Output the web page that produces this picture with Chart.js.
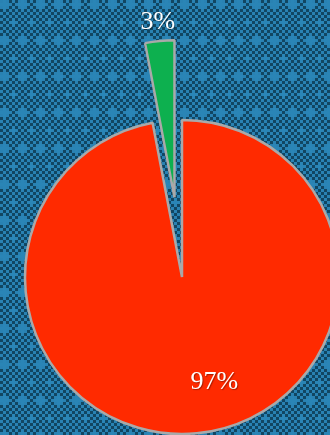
<!DOCTYPE html>
<html>
<head>
<meta charset="utf-8">
<script src="https://cdn.jsdelivr.net/npm/chart.js@4.4.1/dist/chart.umd.min.js"></script>
<style>
  html, body { margin: 0; padding: 0; width: 330px; height: 435px; overflow: hidden; }
  body { position: relative; background-color: #124865; }
  #wrap { position: absolute; left: 0; top: 0; width: 364px; height: 460px; }
</style>
</head>
<body>
<div id="wrap"><canvas id="pie"></canvas></div>
<script>
// Slices, drawn clockwise from twelve o'clock
const categories = ['Rest', 'Share'];
const shares = [97, 3];
const valueLabels = ['97%', '3%'];
const sliceColors = ['#ff2a00', '#0db04f'];

// Tiled backdrop: a small checkerboard with staggered light crosses
(function paintBackdrop() {
  const cell = 3, cols = 6, rows = 12;
  const dark = '#114662', light = '#2982b3', cross = '#2a85b6';
  const crossCentres = [[1, 1], [4, 7]];
  let rects = '';
  const isCross = (c, r) => crossCentres.some(([cx, cy]) =>
    (c === cx && Math.abs(r - cy) <= 1) || (r === cy && Math.abs(c - cx) <= 1));
  for (let r = 0; r < rows; r++) {
    for (let c = 0; c < cols; c++) {
      let fill = null;
      if (isCross(c, r)) fill = cross;
      else if ((c + r) % 2 === 0) fill = light;
      if (fill) rects += `<rect x="${c * cell}" y="${r * cell}" width="${cell}" height="${cell}" fill="${fill}"/>`;
    }
  }
  const svg = `<svg xmlns="http://www.w3.org/2000/svg" width="${cols * cell}" height="${rows * cell}">` +
    `<rect width="100%" height="100%" fill="${dark}"/>${rects}</svg>`;
  document.body.style.backgroundImage = `url("data:image/svg+xml;utf8,${encodeURIComponent(svg)}")`;
})();

// Draw each arc element shifted outward along its bisector (pulled-out slice)
const explode = {
  id: 'explode',
  beforeDatasetDraw(chart, args, opts) {
    const ctx = chart.ctx;
    args.meta.data.forEach((arc, i) => {
      const d = opts.distance[i] || 0;
      const mid = (arc.startAngle + arc.endAngle) / 2;
      ctx.save();
      ctx.translate(Math.cos(mid) * d, Math.sin(mid) * d);
      arc.draw(ctx);
      ctx.restore();
    });
    return false;
  }
};

// Percentage text placed in polar terms around each slice's own centre
const sliceLabels = {
  id: 'sliceLabels',
  afterDatasetsDraw(chart, args, opts) {
    const ctx = chart.ctx;
    const arcs = chart.getDatasetMeta(0).data;
    const dist = chart.options.plugins.explode.distance;
    ctx.save();
    ctx.font = opts.font;
    ctx.fillStyle = opts.color;
    ctx.textAlign = 'center';
    ctx.textBaseline = 'middle';
    ctx.shadowColor = 'rgba(0,0,0,0.35)';
    ctx.shadowOffsetX = 1;
    ctx.shadowOffsetY = 1;
    ctx.shadowBlur = 1;
    arcs.forEach((arc, i) => {
      const place = opts.placement[i];
      const mid = (arc.startAngle + arc.endAngle) / 2;
      const d = dist[i] || 0;
      const cx = arc.x + Math.cos(mid) * d;
      const cy = arc.y + Math.sin(mid) * d;
      const a = mid + place.shift * Math.PI / 180;
      const r = arc.outerRadius * place.radius;
      ctx.fillText(valueLabels[i], cx + Math.cos(a) * r, cy + Math.sin(a) * r);
    });
    ctx.restore();
  }
};

new Chart(document.getElementById('pie'), {
  type: 'pie',
  data: {
    labels: categories,
    datasets: [{
      data: shares,
      backgroundColor: sliceColors,
      borderColor: '#a9a9a9',
      borderWidth: 2.5,
      hoverOffset: 0
    }]
  },
  options: {
    responsive: true,
    maintainAspectRatio: false,
    animation: false,
    events: [],
    layout: { padding: { left: 23.75, right: 23.75, top: 118.75, bottom: 24.75 } },
    plugins: {
      legend: { display: false },
      tooltip: { enabled: false },
      explode: { distance: [0, 80] },
      sliceLabels: {
        font: '26px "Liberation Serif", serif',
        color: '#ffffff',
        placement: [
          { radius: 0.70, shift: -11.7 },
          { radius: 1.12, shift: 0 }
        ]
      }
    }
  },
  plugins: [explode, sliceLabels]
});
</script>
</body>
</html>
